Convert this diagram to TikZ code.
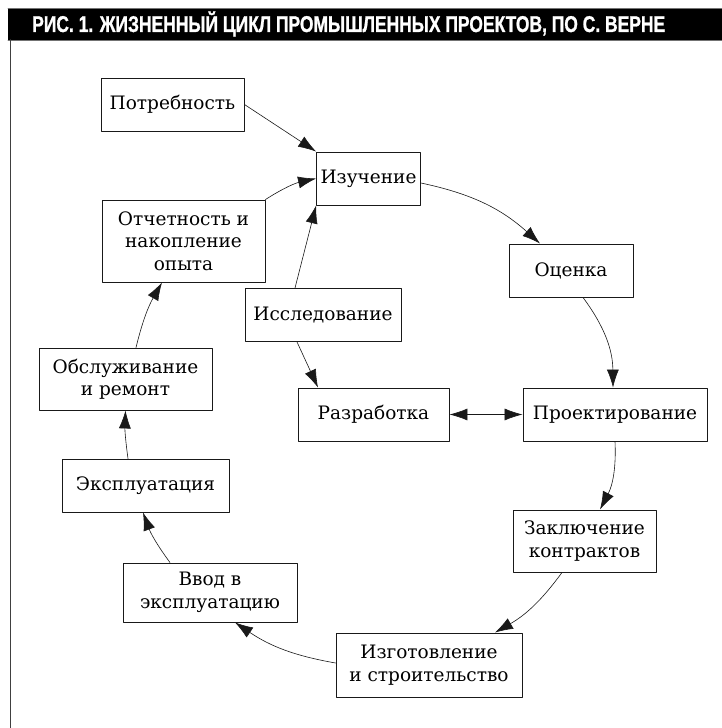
\documentclass[tikz,border=0pt]{standalone}
\usepackage{fontspec}
\usetikzlibrary{arrows.meta}
\newfontfamily\boxfont{DejaVu Serif}
\newfontfamily\titlefont{Liberation Sans}[BoldFeatures={FakeBold=1.2}]

\begin{document}
\begin{tikzpicture}[x=1pt, y=1pt, line cap=round, line join=round,
    box/.style={draw=black!90, line width=0.9pt, align=center,
        font=\boxfont\fontsize{18.5}{22.5}\selectfont,
        inner xsep=4pt, inner ysep=3pt, minimum height=53pt},
    conn/.style={-{Latex[length=18pt,width=12pt]}, line width=0.6pt, black!90}]

\useasboundingbox (0,0) rectangle (722,728);

% title bar and frame
\fill[black] (8,688) rectangle (722,720);
\draw[black!55, line width=0.8pt] (8,720) -- (722,720) (8,688) -- (722,688);
\draw[black!75, line width=1.6pt] (10.5,688) -- (10.5,0);
\node[anchor=base west, inner sep=0pt, text=white,
    font=\titlefont\bfseries\fontsize{22.8}{24}\selectfont] (title) at (32,696)
    {\resizebox{633pt}{\height}{РИС. 1. ЖИЗНЕННЫЙ ЦИКЛ ПРОМЫШЛЕННЫХ ПРОЕКТОВ, ПО С. ВЕРНЕ}};

% stages
\node[box, minimum width=143pt] (potr) at (172.5,623.5) {Потребность};
\node[box, minimum width=95pt] (izuch) at (368.5,549.5) {Изучение};
\node[box, minimum width=163pt, minimum height=82pt] (otch) at (183.5,487) {Отчетность и\\накопление\\опыта};
\node[box, minimum width=156pt] (issl) at (323,413) {Исследование};
\node[box, minimum width=124pt] (otsen) at (571,457.5) {Оценка};
\node[box, minimum width=151pt] (razr) at (373.5,313.5) {Разработка};
\node[box, minimum width=184pt] (proekt) at (615,313.5) {Проектирование};
\node[box, minimum width=143pt, minimum height=62pt] (zakl) at (584.5,187) {Заключение\\контрактов};
\node[box, minimum width=186pt, minimum height=64pt] (izgot) at (429,63) {Изготовление\\и строительство};
\node[box, minimum width=174pt, minimum height=59pt] (vvod) at (210,135.5) {Ввод в\\эксплуатацию};
\node[box, minimum width=167pt] (ekspl) at (145.5,242.5) {Эксплуатация};
\node[box, minimum width=173pt, minimum height=62pt] (obsl) at (125.5,349) {Обслуживание\\и ремонт};

% arrows
\draw[conn] (potr.east) -- (izuch.north west);
\draw[conn] (otch.north east) to[bend left=10] (izuch.west);
\draw[conn] ([xshift=-28pt]issl.north) -- (izuch.south west);
\draw[conn] ([xshift=-26pt]issl.south) -- ([xshift=-55.5pt]razr.north);
\draw[conn, {Latex[length=18pt,width=12pt]}-{Latex[length=18pt,width=12pt]}] (razr.east) -- (proekt.west);

\draw[conn] ([yshift=-4.5pt]izuch.east) to[bend left=15] ([xshift=-31pt]otsen.north);
\draw[conn] ([xshift=12pt]otsen.south) to[bend left=18] ([xshift=-2pt]proekt.north);
\draw[conn] (proekt.south) to[bend left=15] ([xshift=15.5pt]zakl.north);
\draw[conn] ([xshift=-22.5pt]zakl.south) to[bend left=12] ([xshift=66pt]izgot.north);
\draw[conn] ([yshift=2pt]izgot.west) to[bend left=12] ([xshift=25pt]vvod.south);
\draw[conn] ([xshift=-40pt]vvod.north) to[bend left=8] ([xshift=-2.5pt]ekspl.south);
\draw[conn] ([xshift=-17.5pt]ekspl.north) to[bend left=5] (obsl.south);
\draw[conn] ([xshift=10.5pt]obsl.north) to[bend left=8] ([xshift=-21.5pt]otch.south);
\end{tikzpicture}
\end{document}
